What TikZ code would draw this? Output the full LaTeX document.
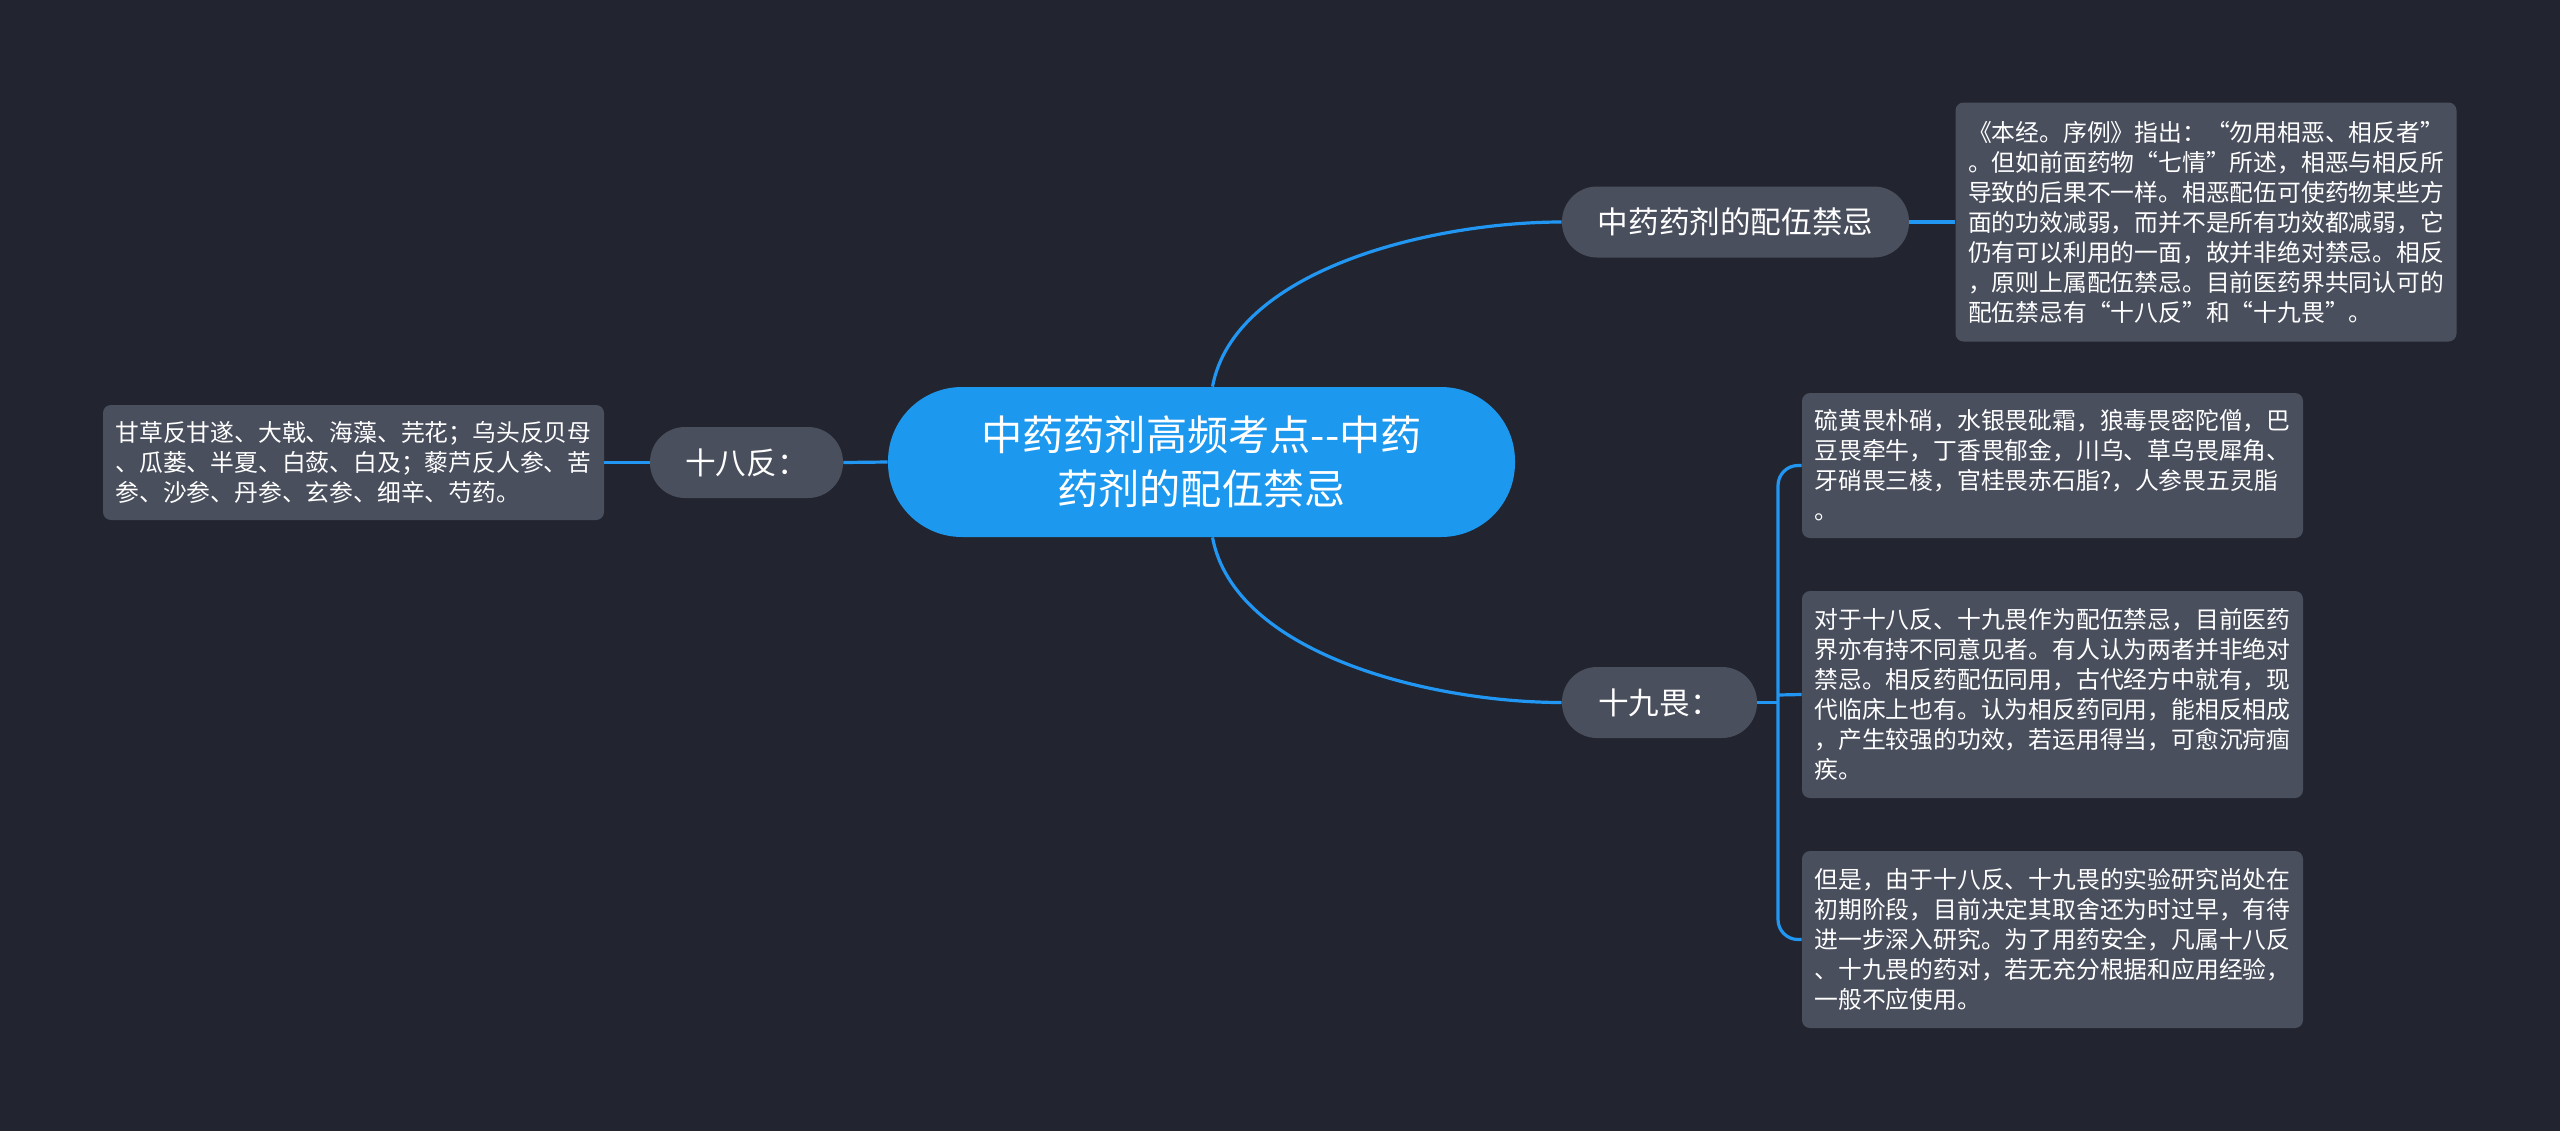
\documentclass[tikz,border=0pt]{standalone}
\usepackage{fontspec}
\setmainfont{Noto Sans CJK SC}
\usetikzlibrary{calc,positioning}
\definecolor{color_bg}{HTML}{22252F}
\definecolor{color_line}{HTML}{2196F3}
\definecolor{color_root}{HTML}{1C98EE}
\definecolor{color_topic}{HTML}{4A4F5E}

\begin{document}
\begin{tikzpicture}[x=0.5pt,y=-0.5pt,
		every node/.style={text=white},
		link/.style={draw=color_line,line width=1.6pt},
		rootnode/.style={fill=color_root,rounded corners=37pt,minimum width=313.5pt,minimum height=75pt,inner sep=0pt,align=center,font=\fontsize{20.6pt}{27pt}\selectfont},
		topicnode/.style={fill=color_topic,rounded corners=17.5pt,minimum height=35.5pt,inner sep=0pt,font=\fontsize{15.3pt}{18pt}\selectfont},
		textbox/.style={fill=color_topic,rounded corners=4pt,text width=238pt,inner xsep=6.25pt,inner ysep=0pt,align=left,font=\fontsize{11.9pt}{15pt}\selectfont}]
				\useasboundingbox (0, 0) rectangle (2560, 1131);
				\fill[color_bg] (0, 0) rectangle (2560, 1131);
				% Points
				\coordinate (FK) at (1778, 695);
				
				% Root and topics
				\node[rootnode] (ROOT) at (1201.5, 462) {中药药剂高频考点-\kern0pt-中药\\药剂的配伍禁忌};
				\node[topicnode,minimum width=173.5pt] (TJ) at (1735.5, 222) {中药药剂的配伍禁忌};
				\node[topicnode,minimum width=96.5pt] (T18) at (746.5, 462.5) {十八反：};
				\node[topicnode,minimum width=97.5pt] (T19) at (1659.5, 702.5) {十九畏：};
				
				% Text boxes
				\node[textbox,minimum height=119.5pt] (TB) at (2206, 222) {《本经。序例》指出：“勿用相恶、相反者”\\
					。但如前面药物“七情”所述，相恶与相反所\\
					导致的后果不一样。相恶配伍可使药物某些方\\
					面的功效减弱，而并不是所有功效都减弱，它\\
					仍有可以利用的一面，故并非绝对禁忌。相反\\
					，原则上属配伍禁忌。目前医药界共同认可的\\
					配伍禁忌有“十八反”和“十九畏”。};
				\node[textbox,minimum height=72.5pt] (R1) at (2052.5, 465.5) {硫黄畏朴硝，水银畏砒霜，狼毒畏密陀僧，巴\\
					豆畏牵牛，丁香畏郁金，川乌、草乌畏犀角、\\
					牙硝畏三棱，官桂畏赤石脂?，人参畏五灵脂\\
					。};
				\node[textbox,minimum height=103.5pt] (R2) at (2052.5, 694.5) {对于十八反、十九畏作为配伍禁忌，目前医药\\
					界亦有持不同意见者。有人认为两者并非绝对\\
					禁忌。相反药配伍同用，古代经方中就有，现\\
					代临床上也有。认为相反药同用，能相反相成\\
					，产生较强的功效，若运用得当，可愈沉疴痼\\
					疾。};
				\node[textbox,minimum height=88.5pt] (R3) at (2052.5, 939.5) {但是，由于十八反、十九畏的实验研究尚处在\\
					初期阶段，目前决定其取舍还为时过早，有待\\
					进一步深入研究。为了用药安全，凡属十八反\\
					、十九畏的药对，若无充分根据和应用经验，\\
					一般不应使用。};
				\node[textbox,minimum height=57.5pt] (L1) at (353.5, 462.5) {甘草反甘遂、大戟、海藻、芫花；乌头反贝母\\
					、瓜蒌、半夏、白蔹、白及；藜芦反人参、苦\\
					参、沙参、丹参、玄参、细辛、芍药。};
				
				% Links
				\draw[link] ([xshift=5.5pt]ROOT.north) .. controls +(22, -117) and +(-130, 0) .. (TJ.west);
				\draw[link] ([xshift=5.5pt]ROOT.south) .. controls +(22, 117) and +(-130, 0) .. (T19.west);
				\draw[link] (ROOT.west) -- (T18.east);
				\draw[link] (T18.west) -- (L1.east);
				\draw[link] (TJ.east) -- (TB.west);
				\draw[link] (T19.east) -- (T19.east -| FK);
				\draw[link,rounded corners=10pt] (R1.west) -| (FK) |- (R3.west);
				\draw[link] (FK) -- (R2.west);
			\end{tikzpicture}
\end{document}
